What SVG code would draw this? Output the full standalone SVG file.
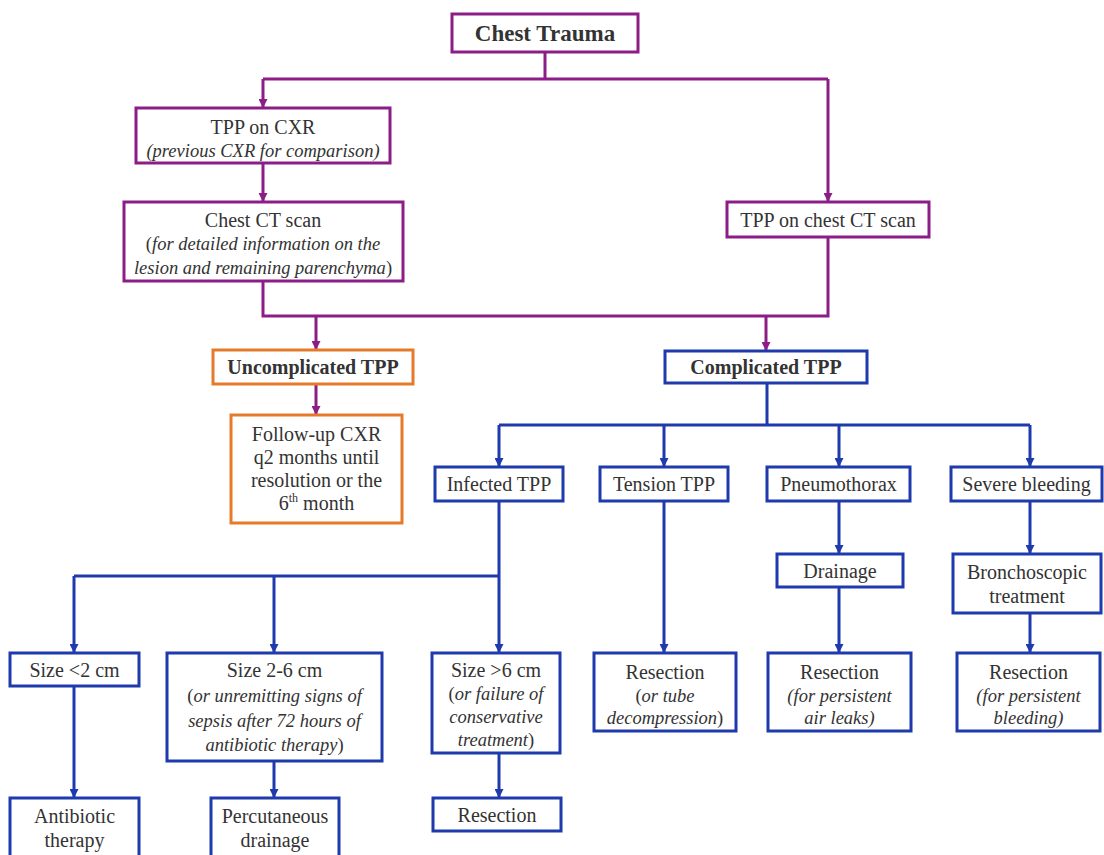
<svg xmlns="http://www.w3.org/2000/svg" width="1104" height="855" viewBox="0 0 1104 855">
<style>
text{font-family:"Liberation Serif","Times New Roman",serif;font-size:20px;fill:#333;text-anchor:middle}
.b{font-weight:bold}
.i{font-style:italic}
.sm{font-size:18.5px}
.pb{fill:#fff;stroke:#8c1d87;stroke-width:3}
.ob{fill:#fff;stroke:#e57b2a;stroke-width:3}
.bb{fill:#fff;stroke:#1f3aad;stroke-width:3}
.pc{fill:none;stroke:#8c1d87;stroke-width:3}
.bc{fill:none;stroke:#1f3aad;stroke-width:3}
</style>
<defs>
<marker id="ap" viewBox="0 0 10 10" refX="10" refY="5" markerWidth="9" markerHeight="9" markerUnits="userSpaceOnUse" orient="auto"><path d="M0,0 L10,5 L0,10 z" fill="#8c1d87"/></marker>
<marker id="ab" viewBox="0 0 10 10" refX="10" refY="5" markerWidth="9" markerHeight="9" markerUnits="userSpaceOnUse" orient="auto"><path d="M0,0 L10,5 L0,10 z" fill="#1f3aad"/></marker>
</defs>
<rect width="1104" height="855" fill="#fff"/>
<g id="connectors">
<path class="pc" d="M545,52 V79 M263,79 H828"/>
<path class="pc" d="M263,79 V108" marker-end="url(#ap)"/>
<path class="pc" d="M828,79 V202" marker-end="url(#ap)"/>
<path class="pc" d="M263,163 V202" marker-end="url(#ap)"/>
<path class="pc" d="M263,281 V316 H828 V237"/>
<path class="pc" d="M316,316 V350" marker-end="url(#ap)"/>
<path class="pc" d="M766,316 V351" marker-end="url(#ap)"/>
<path class="pc" d="M316,384 V415" marker-end="url(#ap)"/>
<path class="bc" d="M767,383 V425"/>
<path class="bc" d="M499,425 H1030"/>
<path class="bc" d="M499,425 V467" marker-end="url(#ab)"/>
<path class="bc" d="M664,425 V467" marker-end="url(#ab)"/>
<path class="bc" d="M839,425 V467" marker-end="url(#ab)"/>
<path class="bc" d="M1030,425 V467" marker-end="url(#ab)"/>
<path class="bc" d="M499,501 V653" marker-end="url(#ab)"/>
<path class="bc" d="M499,576 H74"/>
<path class="bc" d="M74,576 V653" marker-end="url(#ab)"/>
<path class="bc" d="M274,576 V653" marker-end="url(#ab)"/>
<path class="bc" d="M664,501 V653" marker-end="url(#ab)"/>
<path class="bc" d="M839,501 V554" marker-end="url(#ab)"/>
<path class="bc" d="M839,587 V653" marker-end="url(#ab)"/>
<path class="bc" d="M1030,501 V554" marker-end="url(#ab)"/>
<path class="bc" d="M1030,613 V653" marker-end="url(#ab)"/>
<path class="bc" d="M74,686 V798" marker-end="url(#ab)"/>
<path class="bc" d="M274,761 V798" marker-end="url(#ab)"/>
<path class="bc" d="M499,753 V798" marker-end="url(#ab)"/>
</g>
<g id="chest-trauma"><rect class="pb" x="452" y="14" width="186" height="38"/><text class="b" x="545" y="41" style="font-size:23px">Chest Trauma</text></g>
<g id="tpp-cxr"><rect class="pb" x="136" y="108" width="254" height="55"/><text x="263" y="134">TPP on CXR</text><text class="i sm" x="263" y="157">(previous CXR for comparison)</text></g>
<g id="chest-ct"><rect class="pb" x="124" y="202" width="279" height="79"/><text x="263" y="227">Chest CT scan</text><text class="sm" x="263" y="250">(<tspan class="i">for detailed information on the</tspan></text><text class="sm" x="263" y="274"><tspan class="i">lesion and remaining parenchyma</tspan>)</text></g>
<g id="tpp-ct"><rect class="pb" x="727" y="202" width="202" height="35"/><text x="828" y="227">TPP on chest CT scan</text></g>
<g id="uncomplicated"><rect class="ob" x="213" y="350" width="200" height="34"/><text class="b" x="313" y="374">Uncomplicated TPP</text></g>
<g id="follow-up"><rect class="ob" x="231" y="415" width="171" height="108"/><text x="316.5" y="441">Follow-up CXR</text><text x="316.5" y="464">q2 months until</text><text x="316.5" y="487">resolution or the</text><text x="316.5" y="510">6<tspan style="font-size:12px" dy="-8">th</tspan><tspan dy="8"> month</tspan></text></g>
<g id="complicated"><rect class="bb" x="665" y="351" width="202" height="32"/><text class="b" x="766" y="374">Complicated TPP</text></g>
<g id="infected"><rect class="bb" x="435" y="467" width="128" height="34"/><text x="499" y="491">Infected TPP</text></g>
<g id="tension"><rect class="bb" x="600" y="467" width="128" height="34"/><text x="664" y="491">Tension TPP</text></g>
<g id="pneumothorax"><rect class="bb" x="767" y="467" width="143" height="34"/><text x="838.5" y="491">Pneumothorax</text></g>
<g id="severe-bleeding"><rect class="bb" x="951" y="467" width="151" height="34"/><text x="1026.5" y="491">Severe bleeding</text></g>
<g id="drainage"><rect class="bb" x="777" y="554" width="126" height="33"/><text x="840" y="578">Drainage</text></g>
<g id="bronchoscopic"><rect class="bb" x="953" y="554" width="148" height="59"/><text x="1027" y="579">Bronchoscopic</text><text x="1027" y="603">treatment</text></g>
<g id="size-lt2"><rect class="bb" x="10" y="653" width="129" height="33"/><text x="74.5" y="677">Size &lt;2 cm</text></g>
<g id="size-2-6"><rect class="bb" x="167" y="653" width="215" height="108"/><text x="274.5" y="677">Size 2-6 cm</text><text class="sm" x="274.5" y="702">(<tspan class="i">or unremitting signs of</tspan></text><text class="sm i" x="274.5" y="727">sepsis after 72 hours of</text><text class="sm" x="274.5" y="751"><tspan class="i">antibiotic therapy</tspan>)</text></g>
<g id="size-gt6"><rect class="bb" x="432" y="653" width="128" height="100"/><text x="496" y="677">Size &gt;6 cm</text><text class="sm" x="496" y="700">(<tspan class="i">or failure of</tspan></text><text class="sm i" x="496" y="723">conservative</text><text class="sm" x="496" y="746"><tspan class="i">treatment</tspan>)</text></g>
<g id="resection-tension"><rect class="bb" x="594" y="653" width="142" height="78"/><text x="665" y="679">Resection</text><text class="sm" x="665" y="702">(<tspan class="i">or tube</tspan></text><text class="sm" x="665" y="724"><tspan class="i">decompression</tspan>)</text></g>
<g id="resection-pneumo"><rect class="bb" x="768" y="653" width="143" height="78"/><text x="839.5" y="679">Resection</text><text class="sm i" x="839.5" y="702">(for persistent</text><text class="sm i" x="839.5" y="724">air leaks)</text></g>
<g id="resection-bleeding"><rect class="bb" x="957" y="653" width="143" height="78"/><text x="1028.5" y="679">Resection</text><text class="sm i" x="1028.5" y="702">(for persistent</text><text class="sm i" x="1028.5" y="724">bleeding)</text></g>
<g id="antibiotic"><rect class="bb" x="10" y="798" width="129" height="70"/><text x="74.5" y="823">Antibiotic</text><text x="74.5" y="847">therapy</text></g>
<g id="percutaneous"><rect class="bb" x="211" y="798" width="128" height="70"/><text x="275" y="823">Percutaneous</text><text x="275" y="847">drainage</text></g>
<g id="resection-left"><rect class="bb" x="433" y="798" width="128" height="33"/><text x="497" y="822">Resection</text></g>
</svg>
